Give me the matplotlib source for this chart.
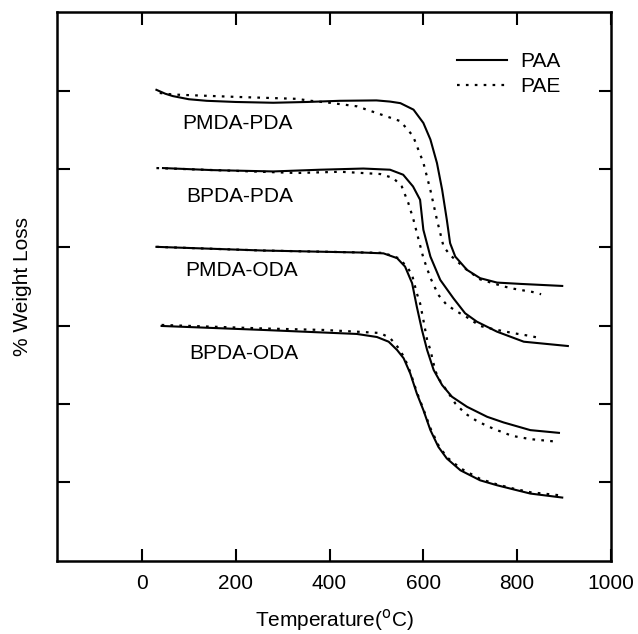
import matplotlib
matplotlib.use("Agg")
import matplotlib.pyplot as plt

plt.rcParams['font.family'] = ['Liberation Sans', 'DejaVu Sans']

# TGA curves (x: temperature degC, y: shifted weight, arbitrary units)
pmda_pda_paa_t = [31, 50, 66, 100, 138, 200, 280, 352, 422, 500, 529, 551, 579, 600, 615, 629, 640, 650, 657, 668, 693, 721, 757, 807, 896]
pmda_pda_paa_w = [6.01, 5.96, 5.93, 5.89, 5.87, 5.855, 5.845, 5.855, 5.87, 5.875, 5.86, 5.84, 5.757, 5.587, 5.376, 5.075, 4.735, 4.351, 4.052, 3.881, 3.711, 3.605, 3.549, 3.532, 3.506]
pmda_pda_pae_t = [38, 66, 200, 330, 360, 400, 458, 522, 551, 578, 600, 615, 629, 643, 657, 693, 721, 771, 793, 812, 832, 851]
pmda_pda_pae_w = [5.97, 5.95, 5.92, 5.895, 5.87, 5.845, 5.80, 5.67, 5.61, 5.42, 5.08, 4.73, 4.35, 4.01, 3.90, 3.71, 3.59, 3.50, 3.47, 3.45, 3.43, 3.40]

bpda_pda_paa_t = [45, 150, 280, 380, 472, 529, 557, 578, 593, 600, 615, 636, 664, 689, 714, 757, 814, 908]
bpda_pda_paa_w = [5.011, 4.985, 4.968, 4.99, 5.005, 4.990, 4.926, 4.776, 4.606, 4.223, 3.881, 3.583, 3.349, 3.157, 3.050, 2.922, 2.794, 2.739]
bpda_pda_pae_t = [31, 330, 423, 508, 536, 554, 568, 579, 590, 600, 615, 632, 650, 672, 693, 721, 750, 793, 828, 850]
bpda_pda_pae_w = [5.011, 4.948, 4.964, 4.935, 4.884, 4.776, 4.564, 4.350, 4.095, 3.864, 3.609, 3.391, 3.263, 3.178, 3.106, 2.995, 2.953, 2.902, 2.867, 2.838]

pmda_oda_paa_t = [31, 259, 472, 515, 544, 561, 576, 586, 597, 608, 622, 640, 661, 693, 736, 771, 828, 889]
pmda_oda_paa_w = [4.005, 3.958, 3.932, 3.922, 3.861, 3.753, 3.541, 3.242, 2.944, 2.688, 2.432, 2.240, 2.091, 1.963, 1.835, 1.763, 1.665, 1.630]
pmda_oda_pae_t = [31, 259, 515, 547, 565, 576, 586, 593, 600, 608, 615, 625, 632, 654, 668, 689, 711, 732, 753, 789, 828, 889]
pmda_oda_pae_w = [4.005, 3.958, 3.928, 3.861, 3.753, 3.647, 3.413, 3.285, 3.072, 2.816, 2.688, 2.432, 2.326, 2.134, 2.006, 1.878, 1.793, 1.729, 1.674, 1.592, 1.550, 1.515]

bpda_oda_paa_t = [42, 259, 458, 501, 526, 544, 558, 572, 586, 600, 615, 632, 650, 679, 721, 757, 793, 828, 896]
bpda_oda_paa_w = [2.995, 2.944, 2.893, 2.854, 2.794, 2.688, 2.582, 2.390, 2.134, 1.921, 1.665, 1.451, 1.303, 1.152, 1.024, 0.961, 0.907, 0.855, 0.804]
bpda_oda_pae_t = [42, 259, 387, 458, 508, 529, 547, 560, 572, 586, 600, 615, 632, 650, 679, 721, 757, 793, 828, 889]
bpda_oda_pae_w = [3.008, 2.963, 2.944, 2.922, 2.905, 2.841, 2.714, 2.586, 2.407, 2.151, 1.934, 1.690, 1.473, 1.320, 1.178, 1.042, 0.972, 0.917, 0.872, 0.834]

sample_names = ['PMDA-PDA', 'BPDA-PDA', 'PMDA-ODA', 'BPDA-ODA']
label_t = [87, 94, 92, 100]
label_w = [5.58, 4.645, 3.70, 2.64]

x_ticks = [0, 200, 400, 600, 800, 1000]
y_ticks = [1, 2, 3, 4, 5, 6]

solid = [(pmda_pda_paa_t, pmda_pda_paa_w), (bpda_pda_paa_t, bpda_pda_paa_w),
         (pmda_oda_paa_t, pmda_oda_paa_w), (bpda_oda_paa_t, bpda_oda_paa_w)]
dotted = [(pmda_pda_pae_t, pmda_pda_pae_w), (bpda_pda_pae_t, bpda_pda_pae_w),
          (pmda_oda_pae_t, pmda_oda_pae_w), (bpda_oda_pae_t, bpda_oda_pae_w)]

fig = plt.figure(figsize=(6.38, 6.34), dpi=100)
ax = fig.add_axes([0.0893, 0.1159, 0.8684, 0.8647])

for i, (t, w) in enumerate(solid):
    ax.plot(t, w, color='black', lw=1.5, label='PAA' if i == 0 else None)
for i, (t, w) in enumerate(dotted):
    ax.plot(t, w, color='black', lw=1.6, linestyle=(0, (1.2, 2.8)),
            label='PAE' if i == 0 else None)

for name, t, w in zip(sample_names, label_t, label_w):
    ax.text(t, w, name, fontsize=15, va='center', ha='left')

ax.set_xlim(-181, 1000)
ax.set_ylim(0, 7)
ax.set_xticks(x_ticks)
ax.set_yticks(y_ticks)
ax.set_yticklabels([])
ax.tick_params(direction='in', length=9, width=1.5, top=True, right=True,
               labelsize=15, pad=10)
for s in ax.spines.values():
    s.set_linewidth(1.8)

ax.set_xlabel('Temperature($^{\\rm o}$C)', fontsize=15, labelpad=10)
ax.set_ylabel('% Weight Loss', fontsize=15, labelpad=8)

ax.legend(loc='upper left', bbox_to_anchor=(0.689, 0.962), frameon=False,
          fontsize=15, handlelength=2.4, handletextpad=0.6, labelspacing=0.3)

fig.savefig('out.png', dpi=100)
